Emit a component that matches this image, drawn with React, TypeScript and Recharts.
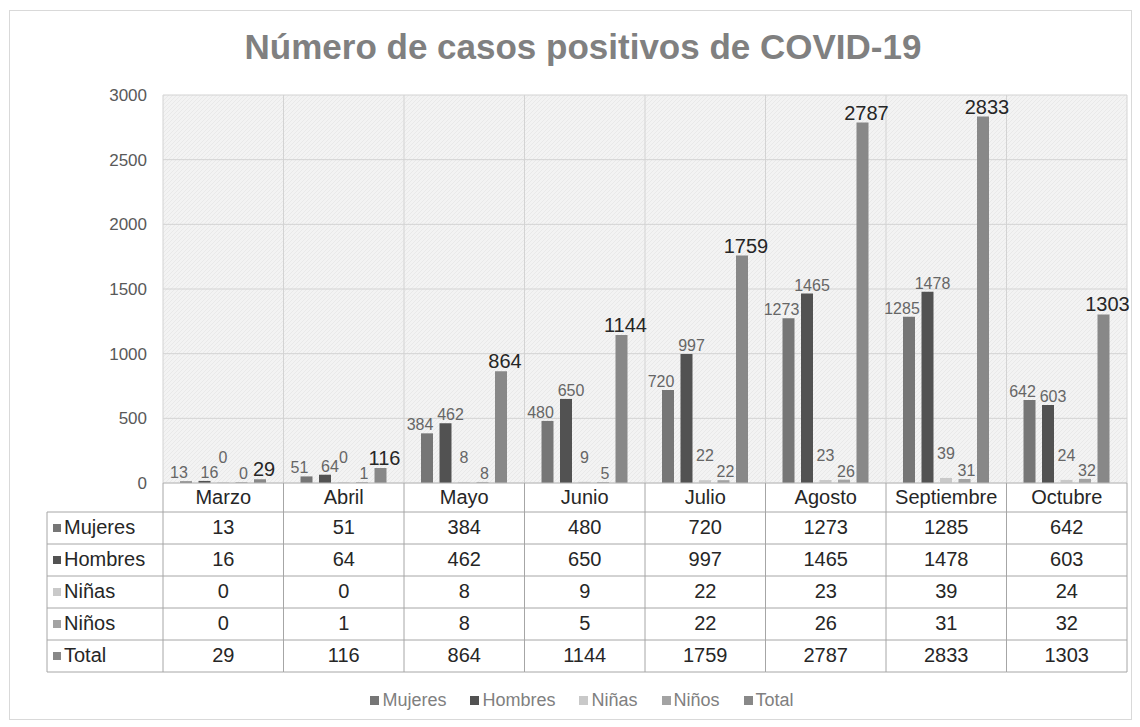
import React from 'react';
import { BarChart, Bar, XAxis, YAxis, CartesianGrid, LabelList } from 'recharts';

const months = ['Marzo', 'Abril', 'Mayo', 'Junio', 'Julio', 'Agosto', 'Septiembre', 'Octubre'];
const mujeres = [13, 51, 384, 480, 720, 1273, 1285, 642];
const hombres = [16, 64, 462, 650, 997, 1465, 1478, 603];
const ninas = [0, 0, 8, 9, 22, 23, 39, 24];
const ninos = [0, 1, 8, 5, 22, 26, 31, 32];
const total = [29, 116, 864, 1144, 1759, 2787, 2833, 1303];
const yTicks = [0, 500, 1000, 1500, 2000, 2500, 3000];

const series = [
  { key: 'mujeres', name: 'Mujeres', values: mujeres, color: '#767676', dx: -7, lift: 3 },
  { key: 'hombres', name: 'Hombres', values: hombres, color: '#525252', dx: 5, lift: 3 },
  { key: 'ninas', name: 'Niñas', values: ninas, color: '#c9c9c9', dx: 0, lift: 19 },
  { key: 'ninos', name: 'Niños', values: ninos, color: '#a3a3a3', dx: 2, lift: 3 },
  { key: 'total', name: 'Total', values: total, color: '#888888', dx: 4, lift: 3 },
];

const chartData = months.map((m, i) => {
  const row: any = { month: m };
  series.forEach((s) => { row[s.key] = s.values[i]; });
  return row;
});

const W = 1140;
const H = 727;
const MARGIN = { top: 95, right: 13, left: 103, bottom: 54 };
const Y_AXIS_W = 60;
const PLOT_W = W - MARGIN.left - Y_AXIS_W - MARGIN.right;
const BAND = PLOT_W / months.length;
const HEADER_H = 29;
const ROW_H = 32;
const TABLE_LEFT = 47;
const LINE = '#a6a6a6';
const FONT = 'Liberation Sans, Arial, sans-serif';

const TableTick = (props: any) => {
  const { x, y, payload } = props;
  const i = payload.index;
  const left = x - BAND / 2;
  const right = x + BAND / 2;
  const bottom = y + HEADER_H + ROW_H * series.length;
  return (
    <g>
      <line x1={left} y1={y} x2={left} y2={bottom} stroke={LINE} />
      {i === months.length - 1 && <line x1={right} y1={y} x2={right} y2={bottom} stroke={LINE} />}
      <text x={x} y={y + HEADER_H / 2 + 1} textAnchor="middle" dominantBaseline="middle" fontSize={20} fill="#262626" fontFamily={FONT}>
        {payload.value}
      </text>
      {series.map((s, r) => {
        const top = y + HEADER_H + r * ROW_H;
        return (
          <g key={s.key}>
            <line x1={left} y1={top} x2={right} y2={top} stroke={LINE} />
            <text x={x} y={top + ROW_H / 2 + 1} textAnchor="middle" dominantBaseline="middle" fontSize={20} fill="#262626" fontFamily={FONT}>
              {s.values[i]}
            </text>
          </g>
        );
      })}
      <line x1={left} y1={bottom} x2={right} y2={bottom} stroke={LINE} />
      {i === 0 && (
        <g>
          <line x1={TABLE_LEFT} y1={y + HEADER_H} x2={TABLE_LEFT} y2={bottom} stroke={LINE} />
          {series.map((s, r) => {
            const top = y + HEADER_H + r * ROW_H;
            return (
              <g key={s.key}>
                <line x1={TABLE_LEFT} y1={top} x2={left} y2={top} stroke={LINE} />
                <rect x={TABLE_LEFT + 6} y={top + ROW_H / 2 - 4} width={8} height={8} fill={s.color} />
                <text x={TABLE_LEFT + 17} y={top + ROW_H / 2 + 1} dominantBaseline="middle" fontSize={20} fill="#262626" fontFamily={FONT}>
                  {s.name}
                </text>
              </g>
            );
          })}
          <line x1={TABLE_LEFT} y1={bottom} x2={left} y2={bottom} stroke={LINE} />
        </g>
      )}
    </g>
  );
};

export default function App() {
  return (
    <div style={{ position: 'absolute', left: 0, top: 0, width: W, height: H, background: '#fff', fontFamily: FONT }}>
      <div style={{ position: 'absolute', left: 9, top: 10, width: 1121, height: 708, border: '1px solid #d9d9d9' }} />
      <div style={{ position: 'absolute', left: 0, top: 27, width: 1166, textAlign: 'center', fontSize: 35, fontWeight: 'bold', color: '#808080' }}>
        Número de casos positivos de COVID-19
      </div>
      <BarChart width={W} height={H} data={chartData} margin={MARGIN} barSize={12} barGap={6.5} barCategoryGap={17}>
        <defs>
          <pattern id="hatch" width="4" height="4" patternUnits="userSpaceOnUse">
            <rect width="4" height="4" fill="#f3f3f3" />
            <path d="M0,4 L4,0" stroke="#e6e6e6" strokeWidth={0.8} />
          </pattern>
        </defs>
        <CartesianGrid
          fill="url(#hatch)"
          stroke="#d3d3d3"
          verticalCoordinatesGenerator={({ offset }: any) =>
            months.map((_, k) => offset.left + (k * offset.width) / months.length).concat([offset.left + offset.width])
          }
        />
        <YAxis
          width={Y_AXIS_W}
          domain={[0, 3000]}
          ticks={yTicks}
          axisLine={false}
          tickLine={false}
          tickSize={0}
          tickMargin={16}
          tick={{ fontSize: 17, fill: '#595959', fontFamily: FONT }}
        />
        <XAxis
          dataKey="month"
          height={HEADER_H + ROW_H * series.length + 1}
          interval={0}
          tickLine={false}
          tickSize={0}
          tickMargin={0}
          axisLine={{ stroke: '#bfbfbf' }}
          tick={<TableTick />}
        />
        {series.map((s) => (
          <Bar key={s.key} dataKey={s.key} name={s.name} fill={s.color} minPointSize={1} isAnimationActive={false}>
            <LabelList
              dataKey={s.key}
              position="top"
              offset={s.lift}
              dx={s.dx}
              fontSize={s.key === 'total' ? 20 : 16}
              fill={s.key === 'total' ? '#262626' : '#666666'}
              fontFamily={FONT}
            />
          </Bar>
        ))}
      </BarChart>
      <div style={{ position: 'absolute', left: 0, top: 690, width: 1164, display: 'flex', justifyContent: 'center', gap: 24, fontSize: 18, color: '#808080' }}>
        {series.map((s) => (
          <div key={s.key} style={{ display: 'flex', alignItems: 'center' }}>
            <span style={{ display: 'inline-block', width: 9, height: 9, background: s.color, marginRight: 3 }} />
            {s.name}
          </div>
        ))}
      </div>
    </div>
  );
}
